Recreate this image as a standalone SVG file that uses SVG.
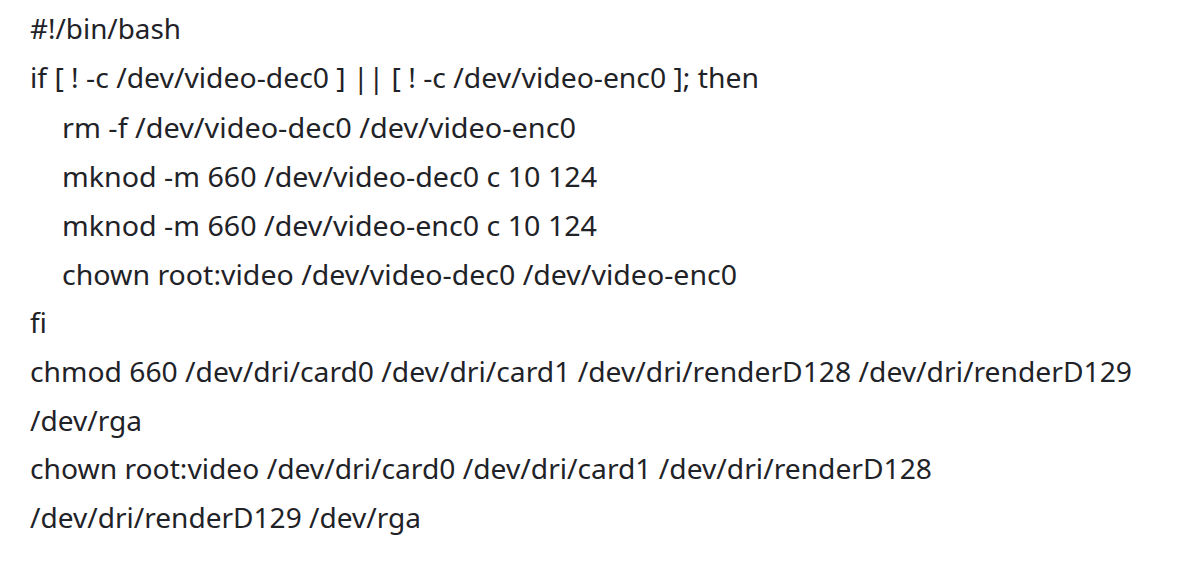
<svg xmlns="http://www.w3.org/2000/svg" width="1200" height="572" viewBox="0 0 1200 572">
<style>
text{font-family:"Noto Sans","Open Sans","Liberation Sans",sans-serif;font-size:28px;fill:#1f2328}
</style>
<rect width="1200" height="572" fill="#ffffff"/>
<g id="code">
<text x="30" y="39" textLength="151" lengthAdjust="spacingAndGlyphs">#!/bin/bash</text>
<text x="30" y="88" textLength="729" lengthAdjust="spacingAndGlyphs">if [ ! -c /dev/video-dec0 ] || [ ! -c /dev/video-enc0 ]; then</text>
<text x="62" y="138" textLength="514" lengthAdjust="spacingAndGlyphs">rm -f /dev/video-dec0 /dev/video-enc0</text>
<text x="62" y="187" textLength="535" lengthAdjust="spacingAndGlyphs">mknod -m 660 /dev/video-dec0 c 10 124</text>
<text x="62" y="236" textLength="535" lengthAdjust="spacingAndGlyphs">mknod -m 660 /dev/video-enc0 c 10 124</text>
<text x="62" y="285" textLength="675" lengthAdjust="spacingAndGlyphs">chown root:video /dev/video-dec0 /dev/video-enc0</text>
<text x="30" y="333">fi</text>
<text x="30" y="382" textLength="1102" lengthAdjust="spacingAndGlyphs">chmod 660 /dev/dri/card0 /dev/dri/card1 /dev/dri/renderD128 /dev/dri/renderD129</text>
<text x="30" y="431" textLength="112" lengthAdjust="spacingAndGlyphs">/dev/rga</text>
<text x="30" y="479" textLength="902" lengthAdjust="spacingAndGlyphs">chown root:video /dev/dri/card0 /dev/dri/card1 /dev/dri/renderD128</text>
<text x="30" y="528" textLength="391" lengthAdjust="spacingAndGlyphs">/dev/dri/renderD129 /dev/rga</text>
</g>
</svg>
